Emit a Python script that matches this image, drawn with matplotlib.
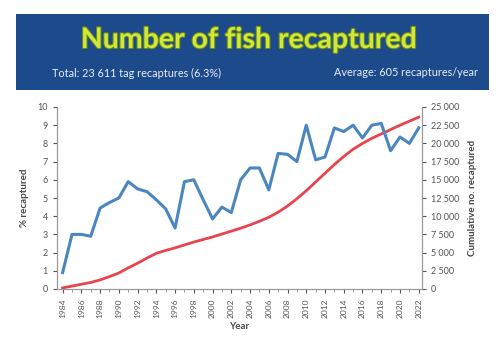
import matplotlib.pyplot as plt
from matplotlib.patches import Rectangle
from matplotlib.ticker import FuncFormatter, MultipleLocator
import matplotlib.patheffects as pe

plt.rcParams['font.family'] = ['Lato', 'DejaVu Sans']

years = list(range(1984, 2023))
pct_recaptured = [0.9, 3.0, 3.0, 2.9, 4.45, 4.75, 5.0, 5.9, 5.5, 5.35,
                  4.9, 4.4, 3.35, 5.9, 6.0, 4.9, 3.85, 4.5, 4.2, 6.0,
                  6.65, 6.65, 5.45, 7.45, 7.4, 7.0, 9.0, 7.1, 7.25, 8.85,
                  8.65, 9.0, 8.3, 9.0, 9.1, 7.6, 8.35, 8.0, 8.85]
cumulative = [150, 400, 650, 900, 1250, 1700, 2200, 2900, 3550, 4250,
              4900, 5300, 5650, 6050, 6450, 6800, 7150, 7550, 7950, 8350,
              8800, 9300, 9850, 10550, 11400, 12400, 13500, 14700, 15900, 17100,
              18200, 19200, 20000, 20700, 21300, 21900, 22500, 23050, 23611]

title = 'Number of fish recaptured'
note_left = 'Total: 23 611 tag recaptures (6.3%)'
note_right = 'Average: 605 recaptures/year'

fig = plt.figure(figsize=(4.99, 3.38), dpi=100)
W, H = 499, 338

# header band
fig.patches.append(Rectangle((16 / W, 1 - 90 / H), (489 - 16) / W, (90 - 14) / H,
                             transform=fig.transFigure, facecolor='#1d4a8a',
                             edgecolor='none', zorder=0))
fig.text(249 / W, 1 - 40 / H, title, ha='center', va='center', fontsize=20.5,
         fontweight='bold', color='#cfe83a',
         path_effects=[pe.withStroke(linewidth=1.5, foreground='#6d8a1c')])
fig.text(52 / W, 1 - 73 / H, note_left, ha='left', va='center', fontsize=7.8,
         color='#e8eef8')
fig.text(478 / W, 1 - 73 / H, note_right, ha='right', va='center', fontsize=7.8,
         color='#e8eef8')

ax = fig.add_axes([57 / W, 1 - 289 / H, (422 - 57) / W, (289 - 107) / H])
ax2 = ax.twinx()

ax.plot(years, pct_recaptured, color='#4a86c0', lw=2.2, zorder=3)
ax2.plot(years, cumulative, color='#e8444e', lw=2.0, zorder=2)
ax.set_zorder(ax2.get_zorder() + 1)
ax.patch.set_visible(False)

ax.set_xlim(1983.4, 2022.35)
ax.set_ylim(0, 10)
ax2.set_ylim(0, 25000)
ax.yaxis.set_major_locator(MultipleLocator(1))
ax2.yaxis.set_major_locator(MultipleLocator(2500))
ax2.yaxis.set_major_formatter(FuncFormatter(lambda v, p: f'{int(v):,}'.replace(',', ' ')))
ax.set_xticks(years[::2])
ax.set_xticks(years, minor=True)
ax.tick_params(axis='x', rotation=90, labelsize=6, colors='#555555', length=3)
ax.tick_params(axis='x', which='minor', length=2, color='#888888')
ax.tick_params(axis='y', labelsize=6.5, colors='#555555', length=3)
ax2.tick_params(axis='y', labelsize=6.5, colors='#555555', length=3)

for a in (ax, ax2):
    a.spines['top'].set_visible(False)
    for s in ('left', 'right', 'bottom'):
        a.spines[s].set_color('#999999')
        a.spines[s].set_linewidth(0.8)

ax.set_ylabel('% recaptured', fontsize=7, fontweight='bold', color='#444444', labelpad=6)
ax2.set_ylabel('Cumulative no. recaptured', fontsize=7, fontweight='bold',
               color='#444444', labelpad=6)
ax.set_xlabel('Year', fontsize=7, fontweight='bold', color='#444444', labelpad=3)

fig.savefig('out.png', dpi=100)
